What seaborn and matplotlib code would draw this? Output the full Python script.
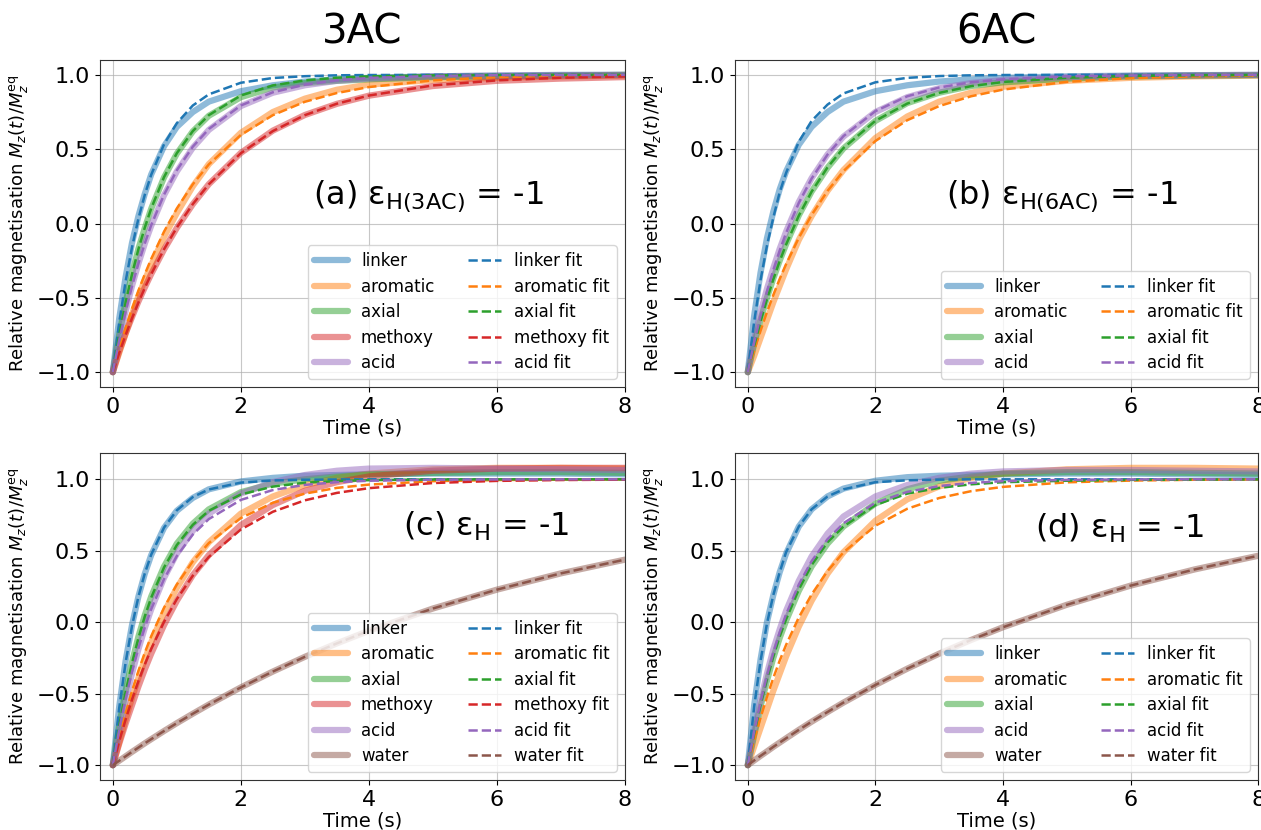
import matplotlib
matplotlib.use("Agg")
import matplotlib.pyplot as plt
import seaborn as sns

sns.set_style("ticks")
plt.rcParams['font.family'] = ['DejaVu Sans']
plt.rcParams['mathtext.fontset'] = 'dejavusans'
plt.rcParams['text.color'] = 'black'
plt.rcParams['axes.labelcolor'] = 'black'
plt.rcParams['xtick.color'] = 'black'
plt.rcParams['ytick.color'] = 'black'

# time points (s)
TIME = [0, 0.1, 0.2, 0.3, 0.4, 0.5, 0.6, 0.8, 1.0, 1.25, 1.5, 2.0, 2.5, 3.0, 3.5, 4.0, 5.0, 6.0, 7.0, 8.0]

# (a) 3AC, eps = -1
A_LINKER = [-1, -0.64, -0.36, -0.13, 0.05, 0.20, 0.33, 0.52, 0.65, 0.75, 0.82, 0.89, 0.93, 0.955, 0.97, 0.98, 0.99, 0.995, 1.0, 1.0]
A_LINKER_FIT = [-1, -0.667, -0.39, -0.16, 0.033, 0.194, 0.328, 0.533, 0.675, 0.794, 0.869, 0.947, 0.979, 0.991, 0.997, 0.999, 1.0, 1.0, 1.0, 1.0]
A_AROMATIC = [-1, -0.87, -0.74, -0.61, -0.49, -0.38, -0.28, -0.09, 0.07, 0.25, 0.40, 0.61, 0.75, 0.84, 0.90, 0.935, 0.965, 0.98, 0.99, 0.995]
A_AROMATIC_FIT = [-1, -0.846, -0.704, -0.573, -0.452, -0.341, -0.238, -0.055, 0.101, 0.264, 0.398, 0.596, 0.729, 0.819, 0.878, 0.918, 0.963, 0.984, 0.993, 0.997]
A_AXIAL = [-1, -0.75, -0.53, -0.34, -0.17, -0.03, 0.10, 0.31, 0.47, 0.62, 0.725, 0.85, 0.915, 0.945, 0.96, 0.97, 0.985, 0.99, 0.995, 1.0]
A_AXIAL_FIT = [-1, -0.75, -0.532, -0.341, -0.173, -0.027, 0.101, 0.312, 0.473, 0.622, 0.729, 0.861, 0.929, 0.963, 0.981, 0.990, 0.997, 0.999, 1.0, 1.0]
A_METHOXY = [-1, -0.86, -0.74, -0.63, -0.525, -0.43, -0.34, -0.175, -0.03, 0.13, 0.265, 0.475, 0.625, 0.73, 0.805, 0.86, 0.925, 0.96, 0.975, 0.985]
A_METHOXY_FIT = [-1, -0.871, -0.750, -0.637, -0.532, -0.433, -0.341, -0.173, -0.027, 0.131, 0.264, 0.473, 0.622, 0.729, 0.806, 0.861, 0.929, 0.963, 0.981, 0.990]
A_ACID = [-1, -0.78, -0.59, -0.42, -0.27, -0.135, -0.015, 0.19, 0.35, 0.51, 0.63, 0.79, 0.88, 0.93, 0.96, 0.975, 0.99, 0.995, 0.998, 1.0]
A_ACID_FIT = [-1, -0.785, -0.594, -0.422, -0.270, -0.133, -0.011, 0.194, 0.358, 0.517, 0.636, 0.794, 0.883, 0.934, 0.963, 0.979, 0.993, 0.998, 0.999, 1.0]

# (b) 6AC, eps = -1
B_LINKER = [-1, -0.62, -0.33, -0.10, 0.08, 0.23, 0.35, 0.53, 0.65, 0.75, 0.82, 0.89, 0.93, 0.955, 0.97, 0.98, 0.99, 0.995, 0.998, 1.0]
B_LINKER_FIT = [-1, -0.66, -0.38, -0.15, 0.04, 0.21, 0.34, 0.55, 0.69, 0.80, 0.875, 0.95, 0.98, 0.992, 0.997, 0.999, 1.0, 1.0, 1.0, 1.0]
B_AROMATIC = [-1, -0.89, -0.77, -0.65, -0.53, -0.42, -0.31, -0.11, 0.05, 0.22, 0.36, 0.575, 0.72, 0.82, 0.88, 0.92, 0.96, 0.98, 0.99, 0.995]
B_AROMATIC_FIT = [-1, -0.855, -0.721, -0.596, -0.481, -0.373, -0.274, -0.096, 0.057, 0.219, 0.353, 0.555, 0.695, 0.790, 0.856, 0.901, 0.953, 0.978, 0.990, 0.995]
B_AXIAL = [-1, -0.81, -0.645, -0.50, -0.37, -0.25, -0.14, 0.055, 0.215, 0.375, 0.505, 0.69, 0.81, 0.88, 0.925, 0.95, 0.975, 0.99, 0.995, 0.998]
B_AXIAL_FIT = [-1, -0.822, -0.659, -0.511, -0.376, -0.253, -0.142, 0.053, 0.214, 0.378, 0.508, 0.691, 0.807, 0.879, 0.924, 0.952, 0.981, 0.993, 0.997, 0.999]
B_ACID = [-1, -0.78, -0.60, -0.44, -0.30, -0.17, -0.055, 0.145, 0.305, 0.465, 0.585, 0.75, 0.85, 0.91, 0.945, 0.965, 0.985, 0.993, 0.997, 1.0]
B_ACID_FIT = [-1, -0.800, -0.620, -0.458, -0.313, -0.182, -0.064, 0.139, 0.302, 0.464, 0.588, 0.756, 0.856, 0.915, 0.950, 0.970, 0.990, 0.996, 0.999, 1.0]

# (c) 3AC, eps_H = -1 (with water)
C_LINKER = [-1, -0.59, -0.27, -0.02, 0.18, 0.34, 0.47, 0.66, 0.78, 0.87, 0.93, 0.985, 1.01, 1.025, 1.03, 1.035, 1.04, 1.04, 1.04, 1.035]
C_LINKER_FIT = [-1, -0.601, -0.282, -0.027, 0.178, 0.342, 0.473, 0.662, 0.783, 0.876, 0.929, 0.977, 0.992, 0.997, 0.999, 1.0, 1.0, 1.0, 1.0, 1.0]
C_AROMATIC = [-1, -0.84, -0.68, -0.53, -0.39, -0.26, -0.14, 0.07, 0.24, 0.42, 0.56, 0.76, 0.88, 0.96, 1.01, 1.04, 1.07, 1.08, 1.08, 1.075]
C_AROMATIC_FIT = [-1, -0.810, -0.637, -0.482, -0.341, -0.213, -0.098, 0.101, 0.264, 0.427, 0.554, 0.729, 0.836, 0.900, 0.940, 0.963, 0.987, 0.995, 0.998, 0.999]
C_AXIAL = [-1, -0.72, -0.48, -0.28, -0.10, 0.05, 0.18, 0.39, 0.55, 0.69, 0.79, 0.91, 0.97, 1.0, 1.02, 1.035, 1.045, 1.05, 1.05, 1.045]
C_AXIAL_FIT = [-1, -0.726, -0.490, -0.286, -0.111, 0.041, 0.172, 0.383, 0.540, 0.682, 0.780, 0.894, 0.949, 0.976, 0.988, 0.994, 0.999, 1.0, 1.0, 1.0]
C_METHOXY = [-1, -0.85, -0.71, -0.58, -0.45, -0.33, -0.22, -0.02, 0.15, 0.33, 0.47, 0.68, 0.82, 0.92, 0.98, 1.02, 1.06, 1.075, 1.08, 1.08]
C_METHOXY_FIT = [-1, -0.833, -0.681, -0.541, -0.412, -0.295, -0.187, 0.002, 0.162, 0.326, 0.457, 0.649, 0.773, 0.853, 0.905, 0.938, 0.974, 0.989, 0.995, 0.998]
C_ACID = [-1, -0.77, -0.55, -0.36, -0.19, -0.04, 0.09, 0.31, 0.48, 0.64, 0.76, 0.90, 0.98, 1.03, 1.06, 1.075, 1.08, 1.075, 1.07, 1.065]
C_ACID_FIT = [-1, -0.753, -0.537, -0.348, -0.182, -0.036, 0.092, 0.302, 0.463, 0.614, 0.722, 0.856, 0.925, 0.961, 0.980, 0.990, 0.997, 0.999, 1.0, 1.0]
C_WATER = [-1, -0.969, -0.938, -0.907, -0.877, -0.847, -0.818, -0.761, -0.706, -0.640, -0.576, -0.456, -0.345, -0.242, -0.148, -0.060, 0.096, 0.228, 0.342, 0.438]
C_WATER_FIT = [-1, -0.969, -0.938, -0.907, -0.877, -0.847, -0.818, -0.761, -0.706, -0.640, -0.576, -0.456, -0.345, -0.242, -0.148, -0.060, 0.096, 0.228, 0.342, 0.438]

# (d) 6AC, eps_H = -1 (with water)
D_LINKER = [-1, -0.58, -0.26, 0.0, 0.19, 0.35, 0.48, 0.67, 0.79, 0.88, 0.935, 0.99, 1.015, 1.025, 1.03, 1.035, 1.04, 1.04, 1.035, 1.03]
D_LINKER_FIT = [-1, -0.59, -0.27, -0.01, 0.19, 0.35, 0.49, 0.67, 0.79, 0.88, 0.93, 0.98, 0.993, 0.998, 1.0, 1.0, 1.0, 1.0, 1.0, 1.0]
D_AROMATIC = [-1, -0.87, -0.74, -0.61, -0.48, -0.36, -0.24, -0.03, 0.15, 0.34, 0.49, 0.71, 0.86, 0.95, 1.01, 1.04, 1.07, 1.08, 1.08, 1.075]
D_AROMATIC_FIT = [-1, -0.826, -0.667, -0.523, -0.390, -0.269, -0.159, 0.034, 0.194, 0.358, 0.489, 0.675, 0.794, 0.869, 0.917, 0.947, 0.979, 0.991, 0.997, 0.999]
D_AXIAL = [-1, -0.79, -0.59, -0.41, -0.25, -0.11, 0.01, 0.22, 0.39, 0.55, 0.67, 0.83, 0.93, 0.99, 1.02, 1.04, 1.05, 1.05, 1.045, 1.04]
D_AXIAL_FIT = [-1, -0.78, -0.58, -0.40, -0.24, -0.10, 0.02, 0.23, 0.40, 0.56, 0.67, 0.82, 0.90, 0.94, 0.965, 0.98, 0.99, 0.996, 0.998, 1.0]
D_ACID = [-1, -0.76, -0.55, -0.36, -0.19, -0.05, 0.08, 0.29, 0.46, 0.62, 0.74, 0.88, 0.96, 1.01, 1.04, 1.055, 1.065, 1.065, 1.06, 1.055]
D_ACID_FIT = [-1, -0.765, -0.558, -0.375, -0.213, -0.071, 0.055, 0.264, 0.427, 0.581, 0.693, 0.836, 0.912, 0.953, 0.975, 0.987, 0.996, 0.999, 1.0, 1.0]
D_WATER = [-1, -0.967, -0.935, -0.904, -0.872, -0.842, -0.812, -0.753, -0.696, -0.628, -0.562, -0.439, -0.325, -0.220, -0.124, -0.035, 0.122, 0.256, 0.369, 0.465]
D_WATER_FIT = [-1, -0.967, -0.935, -0.904, -0.872, -0.842, -0.812, -0.753, -0.696, -0.628, -0.562, -0.439, -0.325, -0.220, -0.124, -0.035, 0.122, 0.256, 0.369, 0.465]

COLORS = {"linker": "tab:blue", "aromatic": "tab:orange", "axial": "tab:green",
          "methoxy": "tab:red", "acid": "tab:purple", "water": "tab:brown"}

PANELS = [
    {"title": "3AC", "text": r"(a) ε$_{\mathrm{H(3AC)}}$ = -1", "pos": (0.625, 0.585),
     "series": [("linker", A_LINKER, A_LINKER_FIT), ("aromatic", A_AROMATIC, A_AROMATIC_FIT),
                ("axial", A_AXIAL, A_AXIAL_FIT), ("methoxy", A_METHOXY, A_METHOXY_FIT),
                ("acid", A_ACID, A_ACID_FIT)]},
    {"title": "6AC", "text": r"(b) ε$_{\mathrm{H(6AC)}}$ = -1", "pos": (0.625, 0.585),
     "series": [("linker", B_LINKER, B_LINKER_FIT), ("aromatic", B_AROMATIC, B_AROMATIC_FIT),
                ("axial", B_AXIAL, B_AXIAL_FIT), ("acid", B_ACID, B_ACID_FIT)]},
    {"title": None, "text": r"(c) ε$_{\mathrm{H}}$ = -1", "pos": (0.735, 0.775),
     "series": [("linker", C_LINKER, C_LINKER_FIT), ("aromatic", C_AROMATIC, C_AROMATIC_FIT),
                ("axial", C_AXIAL, C_AXIAL_FIT), ("methoxy", C_METHOXY, C_METHOXY_FIT),
                ("acid", C_ACID, C_ACID_FIT), ("water", C_WATER, C_WATER_FIT)]},
    {"title": None, "text": r"(d) ε$_{\mathrm{H}}$ = -1", "pos": (0.735, 0.77),
     "series": [("linker", D_LINKER, D_LINKER_FIT), ("aromatic", D_AROMATIC, D_AROMATIC_FIT),
                ("axial", D_AXIAL, D_AXIAL_FIT), ("acid", D_ACID, D_ACID_FIT),
                ("water", D_WATER, D_WATER_FIT)]},
]

# axes boxes in figure fractions [left, bottom, width, height]
BOXES = [[0.0793, 0.5337, 0.4163, 0.394], [0.5829, 0.5337, 0.4148, 0.394],
         [0.0793, 0.0602, 0.4163, 0.394], [0.5829, 0.0602, 0.4148, 0.394]]

fig = plt.figure(figsize=(12.61, 8.30), dpi=100)

for panel, box in zip(PANELS, BOXES):
    ax = fig.add_axes(box)
    # measured curves first, then the fits, so the legend fills column-wise
    for name, data, fit in panel["series"]:
        sns.lineplot(x=TIME, y=data, ax=ax, color=COLORS[name], linewidth=4.5,
                     alpha=0.5, label=name)
    for name, data, fit in panel["series"]:
        sns.lineplot(x=TIME, y=fit, ax=ax, color=COLORS[name], linewidth=1.8,
                     linestyle="--", label=f"{name} fit")

    ax.set_xlim(-0.2, 8.0)
    ax.set_xticks([0, 2, 4, 6, 8])
    ax.set_yticks([-1.0, -0.5, 0.0, 0.5, 1.0])
    ax.tick_params(labelsize=16)
    ax.grid(True, color="#b0b0b0", linewidth=0.8, alpha=0.7)
    ax.set_xlabel("Time (s)", fontsize=14, labelpad=1)
    ax.set_ylabel(r"Relative magnetisation $M_z(t)/M_z^{\mathrm{eq}}$", fontsize=13)
    if panel["title"]:
        ax.set_title(panel["title"], fontsize=29, pad=12)
    ax.text(panel["pos"][0], panel["pos"][1], panel["text"], transform=ax.transAxes,
            fontsize=23, ha="center", va="center")
    ax.legend(ncol=2, loc="lower right", fontsize=12, labelspacing=0.45)
    for s in ax.spines.values():
        s.set_color("#333333")

fig.savefig("out.png", dpi=100, facecolor="white")
